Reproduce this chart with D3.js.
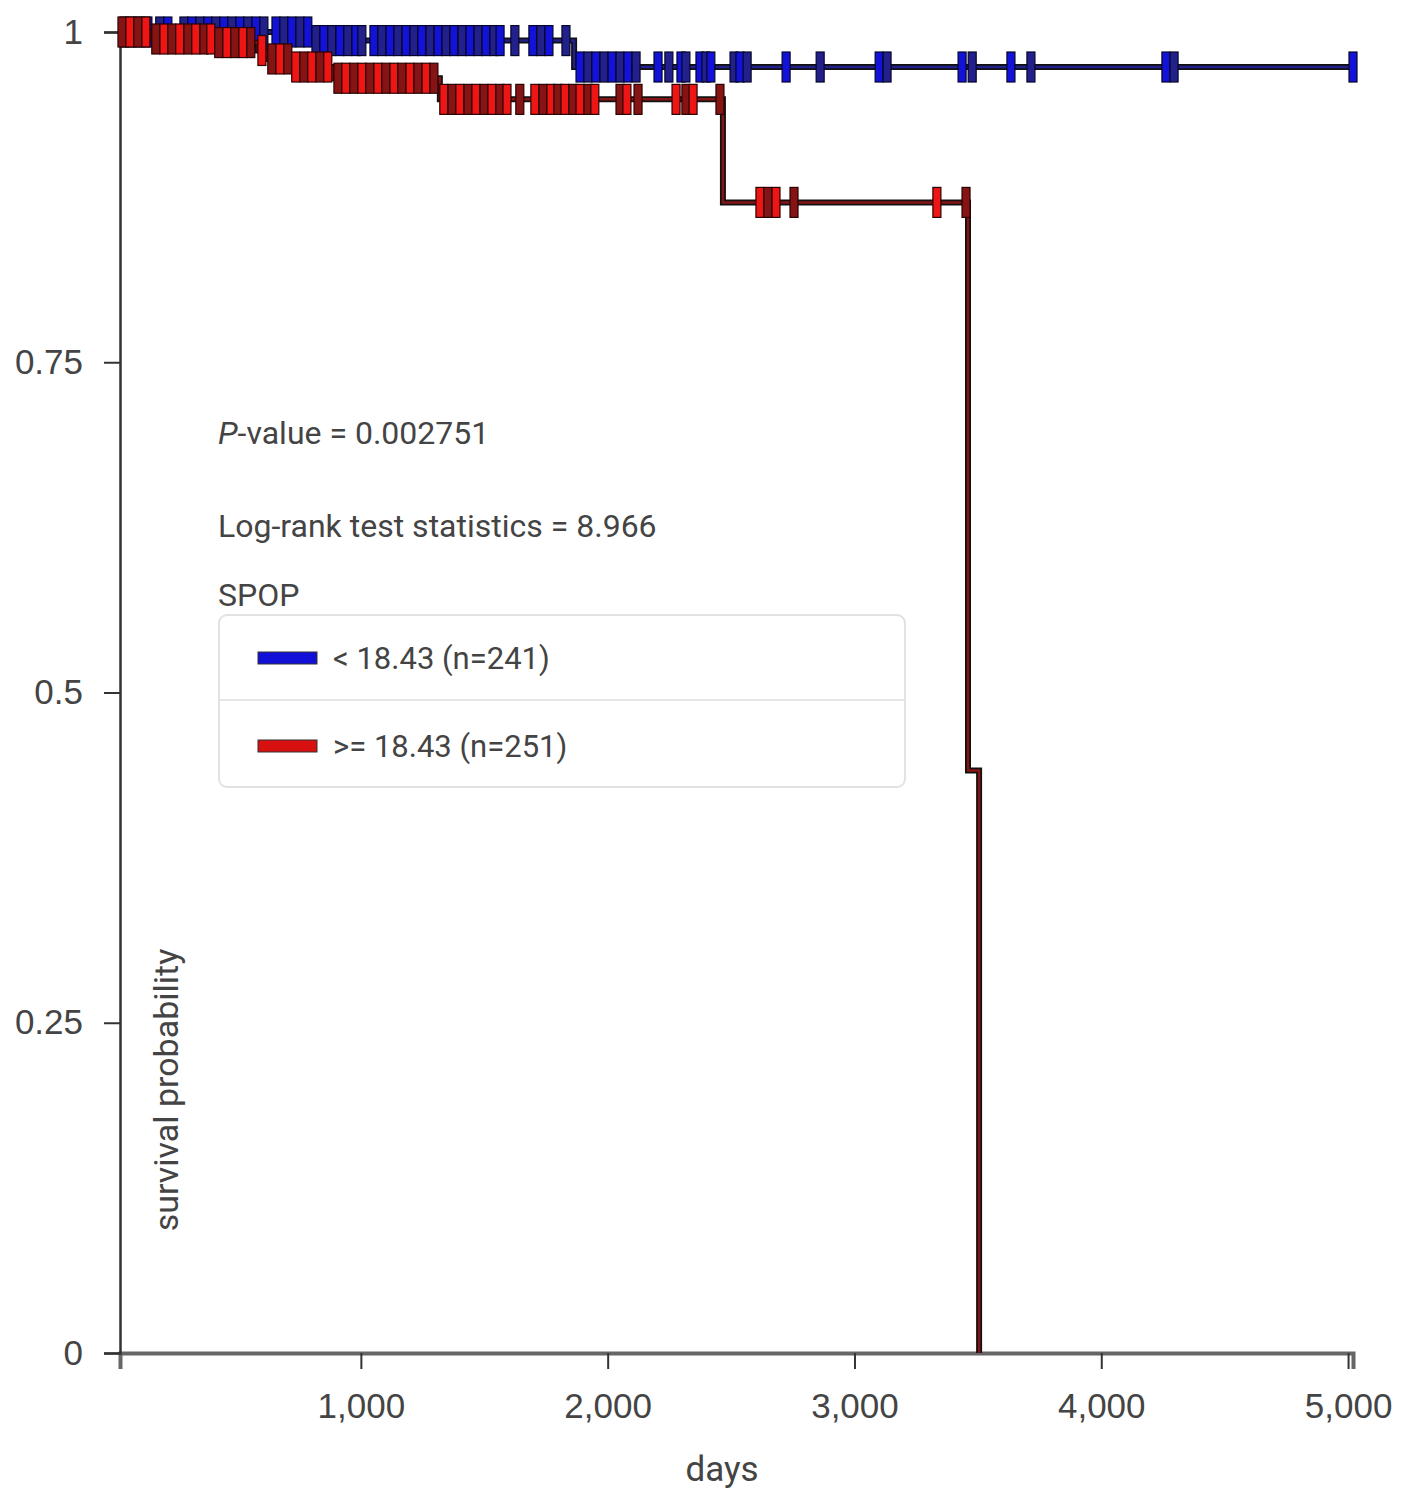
<!DOCTYPE html>
<html>
<head>
<meta charset="utf-8">
<script src="https://cdn.jsdelivr.net/npm/d3@7.9.0/dist/d3.min.js"></script>
<style>
  body { margin: 0; background: #fff; }
  svg { font-family: Roboto, "Open Sans", sans-serif; }
</style>
</head>
<body>
<svg id="chart" width="1404" height="1500"></svg>
<script>
// axis setup
const dayDomain = [24, 5020];
const xTicks = [1000, 2000, 3000, 4000, 5000];
const yTicks = [0, 0.25, 0.5, 0.75, 1];

// group < 18.43 (blue)
const lowEventDays = [802, 1864];
const lowEventSurv = [0.9935, 0.9735];
const lowCensorDays = [
  40, 72, 105, 137, 185, 218, 283, 315, 348, 380, 412, 445, 477, 510, 542, 575, 607,
  656, 688, 720, 753, 785,
  818, 850, 882, 915, 947, 980, 1004, 1053, 1085, 1118, 1150, 1183, 1215, 1247, 1280,
  1313, 1345, 1377, 1410, 1442, 1475, 1507, 1539, 1564, 1624, 1697, 1729, 1762, 1831,
  1888, 1920, 1952, 1985, 2018, 2050, 2082, 2115, 2204, 2248, 2297, 2317, 2374, 2398,
  2418, 2512, 2536, 2565, 2723, 2861, 3100, 3132, 3436, 3477, 3634, 3715, 4262, 4295, 5020
];

// group >= 18.43 (red)
const highEventDays = [153, 408, 583, 619, 720, 887, 1320, 2467, 3460, 3505];
const highEventSurv = [0.9947, 0.992, 0.986, 0.9796, 0.9735, 0.965, 0.949, 0.871, 0.441, 0];
const highCensorDays = [
  32, 64, 96, 129,
  169, 202, 234, 266, 299, 331, 364, 392,
  424, 457, 489, 522, 554, 599, 639, 672, 704,
  736, 769, 801, 834, 866,
  907, 939, 971, 1004, 1036, 1069, 1101, 1134, 1166, 1199, 1231, 1264, 1296,
  1336, 1369, 1401, 1434, 1466, 1499, 1531, 1563, 1592, 1644, 1705, 1738, 1770, 1798,
  1827, 1859, 1888, 1920, 1948, 2050, 2078, 2123, 2277, 2317, 2346, 2455,
  2617, 2649, 2682, 2755, 3334, 3452
];

const legendLabels = ['< 18.43 (n=241)', '>= 18.43 (n=251)'];
const legendColors = ['#1010d8', '#d81010'];

const svg = d3.select('#chart');
const x = d3.scaleLinear().domain(dayDomain).range([120, 1353]);
const y = d3.scaleLinear().domain([0, 1]).range([1353, 32]);

function survAt(days, surv, t) {
  let s = 1;
  days.forEach((d, i) => { if (d <= t) s = surv[i]; });
  return s;
}

function curvePoints(days, surv, end) {
  let pts = [[dayDomain[0], 1]];
  days.forEach((d, i) => pts.push([d, surv[i]]));
  if (end > days[days.length - 1]) pts.push([end, surv[surv.length - 1]]);
  return pts;
}

// axes
const xAxis = svg.append('g')
  .attr('transform', 'translate(0,1353)')
  .call(d3.axisBottom(x).tickValues(xTicks).tickSize(16).tickSizeOuter(16).tickPadding(24)
    .tickFormat(d3.format(',')));
xAxis.select('.domain').attr('stroke', '#666').attr('stroke-width', 4);
xAxis.selectAll('.tick line').attr('stroke', '#333').attr('stroke-width', 2);
xAxis.selectAll('text').attr('font-size', 35).attr('fill', '#444');

const yAxis = svg.append('g')
  .attr('transform', 'translate(120,0)')
  .call(d3.axisLeft(y).tickValues(yTicks).tickSize(16).tickSizeOuter(16).tickPadding(21)
    .tickFormat(d => d === 0 || d === 1 ? d3.format('d')(d) : String(d)));
yAxis.select('.domain').attr('stroke', '#333').attr('stroke-width', 2.5);
yAxis.selectAll('.tick line').attr('stroke', '#333').attr('stroke-width', 2);
yAxis.selectAll('text').attr('font-size', 35).attr('fill', '#444');

// curves
const line = d3.line().x(d => x(d[0])).y(d => y(d[1])).curve(d3.curveStepAfter);

const groups = [
  { days: lowEventDays, surv: lowEventSurv, censor: lowCensorDays, end: 5020,
    core: '#22208a', fill: '#1212d8', edge: '#06062a' },
  { days: highEventDays, surv: highEventSurv, censor: highCensorDays, end: 3505,
    core: '#861414', fill: '#ee1515', edge: '#2a0303' }
];

groups.forEach(g => {
  const pts = curvePoints(g.days, g.surv, g.end);
  svg.append('path').attr('d', line(pts)).attr('fill', 'none')
    .attr('stroke', '#111').attr('stroke-width', 6);
  svg.append('path').attr('d', line(pts)).attr('fill', 'none')
    .attr('stroke', g.core).attr('stroke-width', 2.5);
  svg.append('g').selectAll('rect')
    .data(g.censor)
    .join('rect')
    .attr('x', d => x(d) - 4)
    .attr('y', d => y(survAt(g.days, g.surv, d)) - 15)
    .attr('width', 8)
    .attr('height', 30)
    .attr('fill', (d, i) => i % 2 ? g.fill : g.core)
    .attr('stroke', g.edge)
    .attr('stroke-width', 1.2);
});

// annotations
const ann = svg.append('g').attr('fill', '#444').attr('font-size', 32);
const pv = ann.append('text').attr('x', 218).attr('y', 444);
pv.append('tspan').attr('font-style', 'italic').text('P');
pv.append('tspan').text('-value = 0.002751');
ann.append('text').attr('x', 218).attr('y', 537).text('Log-rank test statistics = 8.966');
ann.append('text').attr('x', 218).attr('y', 606).text('SPOP');

// legend
const leg = svg.append('g');
leg.append('rect').attr('x', 219).attr('y', 615).attr('width', 686).attr('height', 172)
  .attr('rx', 8).attr('fill', '#fff').attr('stroke', '#e2e2e2').attr('stroke-width', 2);
leg.append('line').attr('x1', 220).attr('x2', 904).attr('y1', 700).attr('y2', 700)
  .attr('stroke', '#e6e6e6').attr('stroke-width', 2);
legendLabels.forEach((lab, i) => {
  const cy = 658 + i * 88;
  leg.append('rect').attr('x', 258).attr('y', cy - 6).attr('width', 59).attr('height', 12)
    .attr('fill', legendColors[i]).attr('stroke', '#333').attr('stroke-width', 1);
  leg.append('text').attr('x', 333).attr('y', cy + 11).attr('font-size', 31)
    .attr('fill', '#444').text(lab);
});

// axis titles
svg.append('text').attr('x', 722).attr('y', 1481).attr('text-anchor', 'middle')
  .attr('font-size', 35).attr('fill', '#444').text('days');
svg.append('text').attr('transform', 'translate(178,1090) rotate(-90)')
  .attr('text-anchor', 'middle').attr('font-size', 34).attr('fill', '#444')
  .text('survival probability');
</script>
</body>
</html>
